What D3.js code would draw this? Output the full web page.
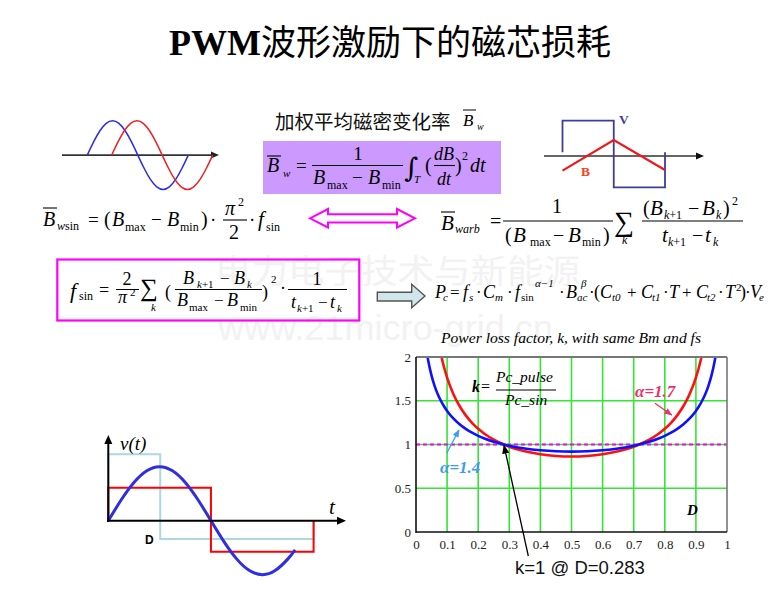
<!DOCTYPE html>
<html><head><meta charset="utf-8">
<script src="https://cdn.jsdelivr.net/npm/d3@7"></script>
<style>html,body{margin:0;padding:0;background:#fff;}svg{display:block;}</style>
</head><body>
<svg id="c" width="779" height="589"></svg>
<script>
// ================= DATA =================
const dutyD    = [0.03,0.035,0.04,0.05,0.06,0.07,0.08,0.09,0.10,0.12,0.14,0.16,0.18,0.20,0.22,0.25,0.283,0.30,0.35,0.40,0.45,0.50,0.55,0.60,0.65,0.70,0.717,0.75,0.78,0.80,0.82,0.84,0.86,0.88,0.90,0.91,0.92,0.93,0.94,0.95,0.96,0.965,0.97];
const kAlpha14 = [2.173,2.048,1.945,1.787,1.668,1.575,1.500,1.437,1.384,1.298,1.232,1.179,1.135,1.099,1.069,1.032,1.000,0.986,0.955,0.935,0.923,0.919,0.923,0.935,0.955,0.986,1.000,1.032,1.069,1.099,1.135,1.179,1.232,1.298,1.384,1.437,1.500,1.575,1.668,1.787,1.945,2.048,2.173];
const kAlpha17 = [3.890,3.505,3.204,2.761,2.448,2.214,2.032,1.886,1.765,1.578,1.440,1.333,1.248,1.180,1.123,1.056,1.000,0.975,0.922,0.888,0.869,0.863,0.869,0.888,0.922,0.975,1.000,1.056,1.123,1.180,1.248,1.333,1.440,1.578,1.765,1.886,2.032,2.214,2.448,2.761,3.204,3.505,3.890];
const xTicks = [0,0.1,0.2,0.3,0.4,0.5,0.6,0.7,0.8,0.9,1];
const yTicks = [0,0.5,1,1.5,2];
const gridX  = [0.1,0.2,0.3,0.4,0.5,0.6,0.7,0.8,0.9];
const gridY  = [0.5,1,1.5];
const refK   = 1;
const crossD = 0.283;
const chartTitle = "Power loss factor, k, with same Bm and fs";
const labelA14 = "α=1.4", labelA17 = "α=1.7", crossLabel = "k=1 @ D=0.283";

// schematic waveforms (phase, level)
const sinePhase = [0,0.0625,0.125,0.1875,0.25,0.3125,0.375,0.4375,0.5,0.5625,0.625,0.6875,0.75,0.8125,0.875,0.9375,1];
const sineLevel = [0,0.383,0.707,0.924,1,0.924,0.707,0.383,0,-0.383,-0.707,-0.924,-1,-0.924,-0.707,-0.383,0];
const pwmSinePhase = [0,0.0625,0.125,0.1875,0.25,0.3125,0.375,0.4375,0.5,0.5625,0.625,0.6875,0.75,0.8125,0.875,0.91];
const pwmSineLevel = [0,0.383,0.707,0.924,1,0.924,0.707,0.383,0,-0.383,-0.707,-0.924,-1,-0.924,-0.707,-0.54];
const pulseWide   = [[0,0],[0,0.61],[0.5,0.61],[0.5,-0.574],[1,-0.574],[1,0]];
const pulseNarrow = [[0,0],[0,1.23],[0.253,1.23],[0.253,-0.34],[1,-0.34],[1,0]];
const squareV  = [[0,0.05],[0,1],[1,1],[1,-1],[2,-1],[2,0.05]];
const triangleB = [[0,-0.5],[1,0.42],[2,-0.48]];

// ================= DRAW =================
const SERIF = "'Liberation Serif','Times New Roman',serif";
const SANS  = "'Liberation Sans',Arial,sans-serif";
const CJK   = "'Noto Sans CJK SC','Noto Sans CJK JP',sans-serif";
const svg = d3.select('#c');

function T(x, y, s, o) {
  o = o || {};
  const e = svg.append('text').attr('x', x).attr('y', y).text(s)
    .attr('font-family', o.f || SERIF).attr('font-size', o.s || 18)
    .attr('font-style', o.i ? 'italic' : 'normal')
    .attr('font-weight', o.b ? 'bold' : 'normal')
    .attr('fill', o.c || '#000');
  if (o.a) e.attr('text-anchor', o.a);
  if (o.tl) e.attr('textLength', o.tl).attr('lengthAdjust', 'spacingAndGlyphs');
  return e;
}
function L(x1, y1, x2, y2, w, c) {
  return svg.append('line').attr('x1', x1).attr('y1', y1).attr('x2', x2).attr('y2', y2)
    .attr('stroke', c || '#000').attr('stroke-width', w || 1);
}
function KP(x, y, sub, o) { // subscript "k+1"
  const e = T(x, y, '', Object.assign({ s: 12 }, o || {}));
  e.append('tspan').attr('font-style', 'italic').text('k');
  e.append('tspan').text('+1');
  return e;
}

// defs: arrow markers
const defs = svg.append('defs');
function marker(id, color, size) {
  defs.append('marker').attr('id', id).attr('viewBox', '0 0 10 10').attr('refX', 9).attr('refY', 5)
    .attr('markerWidth', size).attr('markerHeight', size).attr('orient', 'auto').attr('markerUnits', 'userSpaceOnUse')
    .append('path').attr('d', 'M0,1 L10,5 L0,9 Z').attr('fill', color);
}
marker('mBlack', '#000', 9);
marker('mPink', '#f0306a', 8);
marker('mBlue', '#3c9cf5', 8);

// watermark
T(215, 283, '电力电子技术与新能源', { f: CJK, s: 33, c: '#f2f2f2', tl: 365 });
T(218, 340, 'www.21micro-grid.cn', { f: SANS, s: 35, c: '#f2f2f2', tl: 335 });

// title
const title = svg.append('text').attr('x', 169).attr('y', 55).attr('fill', '#000');
title.append('tspan').attr('font-family', SERIF).attr('font-weight', 'bold').attr('font-size', 36).text('PWM');
title.append('tspan').attr('font-family', CJK).attr('font-size', 35).text('波形激励下的磁芯损耗');

// ---- top-left sine schematic
{
  const xs = d3.scaleLinear([0, 1], [87.3, 188.3]);
  const ys = d3.scaleLinear([-1, 1], [189.5, 120.7]);
  const shift = 24.4;
  const pts = sinePhase.map((p, i) => [p, sineLevel[i]]);
  L(62, ys(0), 212, ys(0), 1.6, '#333');
  svg.append('path').attr('d', `M211,${ys(0) - 3.5}L219,${ys(0)}L211,${ys(0) + 3.5}Z`).attr('fill', '#222');
  svg.append('path').attr('d', d3.line().x(d => xs(d[0])).y(d => ys(d[1])).curve(d3.curveNatural)(pts))
    .attr('fill', 'none').attr('stroke', '#2a2af0').attr('stroke-width', 1.5);
  svg.append('path').attr('d', d3.line().x(d => xs(d[0]) + shift).y(d => ys(d[1])).curve(d3.curveNatural)(pts))
    .attr('fill', 'none').attr('stroke', '#f02020').attr('stroke-width', 1.5);
}

// ---- subtitle
T(275, 129, '加权平均磁密变化率', { f: CJK, s: 19.5, c: '#111' });
T(463, 126, 'B', { i: 1, s: 17 }); L(463, 110, 476, 110, 1);
T(477, 130, 'w', { i: 1, s: 10 });

// ---- purple box formula
svg.append('rect').attr('x', 263).attr('y', 141).attr('width', 238).attr('height', 53).attr('fill', '#cc99ff');
T(267, 172, 'B', { i: 1, s: 20 }); L(267, 156, 281, 156, 1.1);
T(283, 177, 'w', { i: 1, s: 11 });
T(296, 172, '=', { s: 19 });
L(312, 165.5, 403, 165.5, 1.1);
T(358, 160, '1', { a: 'middle', s: 19 });
T(313, 184, 'B', { i: 1, s: 20 }); T(327, 189, 'max', { s: 12 }); T(352, 184, '−', { s: 19 });
T(368, 184, 'B', { i: 1, s: 20 }); T(382, 189, 'min', { s: 12 });
T(404, 177, '∫', { f: "'DejaVu Serif',serif", s: 27 }); T(414, 183, 'T', { i: 1, s: 11 });
T(425, 172, '(', { s: 20 });
T(444, 160, 'dB', { i: 1, a: 'middle', s: 18 }); L(434, 165.5, 455, 165.5, 1.1); T(444, 185, 'dt', { i: 1, a: 'middle', s: 18 });
T(455, 172, ')', { s: 20 }); T(462, 160, '2', { s: 12 }); T(470, 172, 'dt', { i: 1, s: 20 });

// ---- top-right V/B schematic
{
  const xs = d3.scaleLinear([0, 2], [562.5, 665]);
  const ys = d3.scaleLinear([-1, 1], [187.3, 120.7]);
  L(544, 156, 697, 156, 1.6, '#333');
  svg.append('path').attr('d', 'M696,152.5L704,156L696,159.5Z').attr('fill', '#111');
  const ln = d3.line().x(d => xs(d[0])).y(d => ys(d[1]));
  svg.append('path').attr('d', ln(squareV)).attr('fill', 'none').attr('stroke', '#3d3d9e').attr('stroke-width', 1.8);
  svg.append('path').attr('d', ln(triangleB)).attr('fill', 'none').attr('stroke', '#f01818').attr('stroke-width', 2.2);
  T(619, 124, 'V', { b: 1, s: 13.5, c: '#4a3ca0' });
  T(581, 176, 'B', { b: 1, s: 13.5, c: '#ff4020' });
}

// ---- Bwsin row
T(43, 226, 'B', { i: 1, s: 20 }); L(43, 208, 57, 208, 1.1);
T(57, 230, 'w', { i: 1, s: 12 }); T(65, 230, 'sin', { s: 12 });
T(88, 226, '=', { s: 19 });
T(104, 226, '(', { s: 20 }); T(112, 226, 'B', { i: 1, s: 20 }); T(125, 231, 'max', { s: 12 });
T(151, 226, '−', { s: 19 }); T(167, 226, 'B', { i: 1, s: 20 }); T(180, 231, 'min', { s: 12 });
T(201, 226, ')', { s: 20 }); T(210, 226, '·', { s: 19 });
T(225, 215, 'π', { i: 1, s: 20 }); T(238, 206, '2', { s: 12 }); L(223, 220, 247, 220, 1.1);
T(234, 239, '2', { a: 'middle', s: 20 });
T(249, 226, '·', { s: 19 }); T(258, 226, 'f', { i: 1, s: 21 }); T(266, 231, 'sin', { s: 12 });

// ---- magenta double arrow
svg.append('path').attr('d', 'M310,218.3L328,209L328,214.3L397,214.3L397,209L415,218.3L397,227.5L397,222.5L328,222.5L328,227.5Z')
  .attr('fill', '#fff').attr('stroke', '#ff00ff').attr('stroke-width', 2);

// ---- Bwarb row
T(441, 230, 'B', { i: 1, s: 21 }); L(441, 212, 455, 212, 1.1);
T(455, 233, 'warb', { i: 1, s: 12 });
T(490, 228, '=', { s: 20 });
L(503, 221, 613, 221, 1.1);
T(557, 213, '1', { a: 'middle', s: 20 });
T(505, 242, '(', { s: 20 }); T(513, 242, 'B', { i: 1, s: 21 }); T(530, 246, 'max', { s: 12 });
T(553, 242, '−', { s: 20 }); T(568, 242, 'B', { i: 1, s: 21 }); T(582, 246, 'min', { s: 12 }); T(603, 242, ')', { s: 20 });
T(614, 231, '∑', { s: 28 }); T(622, 244, 'k', { i: 1, s: 12 });
L(642, 221, 743, 221, 1.1);
T(643, 215, '(', { s: 20 }); T(650, 215, 'B', { i: 1, s: 21 }); KP(664, 219);
T(688, 215, '−', { s: 20 }); T(702, 215, 'B', { i: 1, s: 21 }); T(716, 219, 'k', { i: 1, s: 12 });
T(723, 215, ')', { s: 20 }); T(732, 205, '2', { s: 12 });
T(662, 242, 't', { i: 1, s: 21 }); KP(668, 246);
T(692, 242, '−', { s: 20 }); T(705, 242, 't', { i: 1, s: 21 }); T(713, 246, 'k', { i: 1, s: 12 });

// ---- fsin boxed formula
svg.append('rect').attr('x', 57.3).attr('y', 259.5).attr('width', 302).attr('height', 61).attr('fill', 'none')
  .attr('stroke', '#ff00ff').attr('stroke-width', 2.2);
T(70, 298, 'f', { i: 1, s: 22 }); T(79, 300, 'sin', { s: 12 });
T(99, 296, '=', { s: 18 });
T(127, 285, '2', { a: 'middle', s: 18 }); L(116, 289.5, 139, 289.5, 1);
T(118, 303, 'π', { i: 1, s: 18 }); T(130, 296, '2', { s: 11 });
T(140, 296, '∑', { s: 25 }); T(151, 311, 'k', { i: 1, s: 11 });
T(165, 298, '(', { s: 18 }); L(175, 289.5, 262, 289.5, 1);
T(183, 284, 'B', { i: 1, s: 18 }); KP(197, 288, null, { s: 11 });
T(220, 284, '−', { s: 17 }); T(234, 284, 'B', { i: 1, s: 18 }); T(247, 288, 'k', { i: 1, s: 11 });
T(177, 306, 'B', { i: 1, s: 18 }); T(189, 311, 'max', { s: 11 });
T(214, 306, '−', { s: 17 }); T(227, 306, 'B', { i: 1, s: 18 }); T(240, 311, 'min', { s: 11 });
T(262, 298, ')', { s: 18 }); T(271, 283, '2', { s: 11 });
T(280, 294, '·', { s: 18 });
L(288, 289.5, 347, 289.5, 1); T(317, 285, '1', { a: 'middle', s: 18 });
T(291, 308, 't', { i: 1, s: 18 }); KP(297, 312, null, { s: 11 });
T(318, 308, '−', { s: 17 }); T(330, 308, 't', { i: 1, s: 18 }); T(337, 312, 'k', { i: 1, s: 11 });

// ---- hollow cyan arrow
svg.append('path').attr('d', 'M377.3,292.3L411.7,292.3L411.7,284.3L425,296L411.7,307.7L411.7,301L377.3,301Z')
  .attr('fill', '#cfe7ea').attr('stroke', '#555').attr('stroke-width', 1.4);

// ---- Pc row
T(435, 298, 'P', { i: 1, s: 18 }); T(443, 301, 'c', { i: 1, s: 11 });
T(450, 298, '=', { s: 17 });
T(463, 298, 'f', { i: 1, s: 18 }); T(469, 301, 's', { i: 1, s: 11 });
T(476, 298, '·', { s: 17 }); T(483, 298, 'C', { i: 1, s: 18 }); T(495, 301, 'm', { i: 1, s: 11 });
T(507, 298, '·', { s: 17 }); T(515, 298, 'f', { i: 1, s: 18 }); T(521, 301, 'sin', { s: 11 });
T(535, 287, 'α−1', { i: 1, s: 11 });
T(559, 298, '·', { s: 17 }); T(566, 298, 'B', { i: 1, s: 18 }); T(577, 301, 'ac', { i: 1, s: 11 }); T(581, 287, 'β', { i: 1, s: 11 });
T(589, 298, '·', { s: 17 }); T(594, 298, '(', { s: 18 });
T(600, 298, 'C', { i: 1, s: 18 }); T(612, 301, 't0', { i: 1, s: 11 });
T(627, 298, '+', { s: 17 }); T(641, 298, 'C', { i: 1, s: 18 }); T(652, 301, 't1', { i: 1, s: 11 });
T(663, 298, '·', { s: 17 }); T(669, 298, 'T', { i: 1, s: 18 });
T(682, 298, '+', { s: 17 }); T(696, 298, 'C', { i: 1, s: 18 }); T(707, 301, 't2', { i: 1, s: 11 });
T(718, 298, '·', { s: 17 }); T(725, 298, 'T', { i: 1, s: 18 }); T(736, 291, '2', { s: 11 });
T(740, 298, ')', { s: 18 }); T(745, 298, '·', { s: 17 }); T(750, 298, 'V', { i: 1, s: 18 }); T(759, 301, 'e', { i: 1, s: 11 });

// ---- bottom-left PWM schematic
{
  const xs = d3.scaleLinear([0, 1], [108.3, 313.6]);
  const ys = d3.scaleLinear([0, 1], [520.7, 466.7]);
  const ln = d3.line().x(d => xs(d[0])).y(d => ys(d[1]));
  svg.append('path').attr('d', ln(pulseNarrow)).attr('fill', 'none').attr('stroke', '#a9dadd').attr('stroke-width', 2);
  svg.append('path').attr('d', ln(pulseWide)).attr('fill', 'none').attr('stroke', '#ff0000').attr('stroke-width', 2);
  const pts = pwmSinePhase.map((p, i) => [p, pwmSineLevel[i]]);
  svg.append('path').attr('d', d3.line().x(d => xs(d[0])).y(d => ys(d[1])).curve(d3.curveNatural)(pts))
    .attr('fill', 'none').attr('stroke', '#2f2fe0').attr('stroke-width', 3);
  L(108.3, 522, 108.3, 443, 2, '#000');
  svg.append('path').attr('d', 'M104.3,444L108.3,435L112.3,444Z').attr('fill', '#000');
  L(107, 520.7, 338, 520.7, 2, '#000');
  svg.append('path').attr('d', 'M337,516.7L346,520.7L337,524.7Z').attr('fill', '#000');
  T(120, 450, 'v(t)', { i: 1, s: 19 });
  T(329, 514, 't', { i: 1, s: 21 });
  T(145, 544, 'D', { f: SANS, b: 1, s: 12 });
}

// ---- chart
{
  const x = d3.scaleLinear([0, 1], [416, 727]);
  const y = d3.scaleLinear([0, 2], [532, 357]);
  T(441, 343, chartTitle, { i: 1, s: 14, tl: 260 });
  const g = svg.append('g');
  g.selectAll('.gx').data(gridX).join('line').attr('x1', d => x(d)).attr('x2', d => x(d))
    .attr('y1', y(0)).attr('y2', y(2)).attr('stroke', '#33e633').attr('stroke-width', 1.6);
  g.selectAll('.gy').data(gridY).join('line').attr('y1', d => y(d)).attr('y2', d => y(d))
    .attr('x1', x(0)).attr('x2', x(1)).attr('stroke', '#33e633').attr('stroke-width', 1.6);
  g.append('line').attr('x1', x(0)).attr('x2', x(1)).attr('y1', y(refK)).attr('y2', y(refK))
    .attr('stroke', '#ff00ff').attr('stroke-width', 2).attr('stroke-dasharray', '4,3');
  defs.append('clipPath').attr('id', 'plotClip').append('rect')
    .attr('x', x(0)).attr('y', y(2)).attr('width', x(1) - x(0)).attr('height', y(0) - y(2));
  const line = d3.line().x(d => x(d[0])).y(d => y(d[1])).curve(d3.curveMonotoneX);
  const cg = g.append('g').attr('clip-path', 'url(#plotClip)');
  cg.append('path').attr('d', line(dutyD.map((d, i) => [d, kAlpha17[i]])))
    .attr('fill', 'none').attr('stroke', '#ff1010').attr('stroke-width', 2.6);
  cg.append('path').attr('d', line(dutyD.map((d, i) => [d, kAlpha14[i]])))
    .attr('fill', 'none').attr('stroke', '#1010ff').attr('stroke-width', 2.6);
  // frame
  L(x(0), y(2), x(1), y(2), 2, '#777');
  L(x(1), y(2), x(1), y(0), 1.6, '#777');
  L(x(0), y(0), x(1), y(0), 1.6, '#111');
  L(x(0), y(0) + 1, x(0), y(2), 1.6, '#111');
  // axes labels
  const ax = svg.append('g').attr('transform', `translate(0,${y(0)})`)
    .call(d3.axisBottom(x).tickValues(xTicks).tickSize(0).tickPadding(8).tickFormat(d3.format('')));
  ax.select('.domain').remove();
  ax.selectAll('text').attr('font-family', SERIF).attr('font-size', 13).attr('fill', '#222');
  const ay = svg.append('g').attr('transform', `translate(${x(0)},0)`)
    .call(d3.axisLeft(y).tickValues(yTicks).tickSize(0).tickPadding(5).tickFormat(d3.format('')));
  ay.select('.domain').remove();
  ay.selectAll('text').attr('font-family', SERIF).attr('font-size', 13).attr('fill', '#222');
  // annotations
  T(472, 392, 'k', { i: 1, b: 1, s: 16 }); T(481, 392, '=', { s: 16 });
  T(496, 382, 'Pc_pulse', { i: 1, s: 15.5 }); L(496, 390, 556, 390, 1.1);
  T(505, 405, 'Pc_sin', { i: 1, s: 15.5 });
  T(635, 397, labelA17, { i: 1, b: 1, s: 17, c: '#f0306a' });
  L(655, 403.3, 671.7, 415, 1.3, '#f0306a').attr('marker-end', 'url(#mPink)');
  T(440, 473, labelA14, { i: 1, b: 1, s: 17, c: '#3c9cf5' });
  L(446.7, 453.3, 459, 430, 1.3, '#3c9cf5').attr('marker-end', 'url(#mBlue)');
  T(687, 515, 'D', { i: 1, b: 1, s: 15 });
  L(528.3, 556, x(crossD), y(refK) + 1, 1.3, '#000').attr('marker-end', 'url(#mBlack)');
  T(515, 574, crossLabel, { f: SANS, s: 18.5, c: '#111' });
}
</script>
</body></html>
